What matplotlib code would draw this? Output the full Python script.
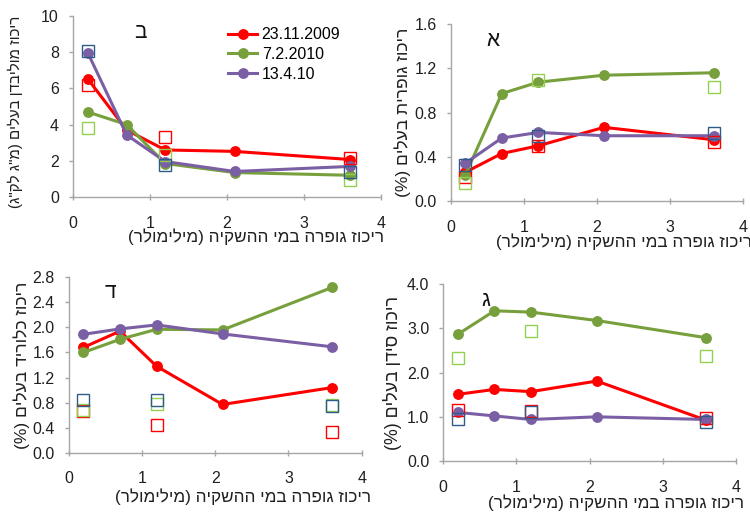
import matplotlib
matplotlib.use("Agg")
import matplotlib.pyplot as plt
import numpy as np

plt.rcParams['font.family'] = ['Liberation Sans', 'DejaVu Sans']

# ---------------- data ----------------
x = [0.2, 0.7, 1.2, 2.1, 3.6]
x_sq = [0.2, 1.2, 3.6]
series_names = ['23.11.2009', '7.2.2010', '13.4.10']

# ב  molybdenum (mg/kg)
mo_red = [6.5, 3.7, 2.6, 2.52, 2.07]
mo_green = [4.69, 4.0, 1.85, 1.35, 1.2]
mo_purple = [7.93, 3.43, 1.96, 1.41, 1.69]
mo_sq_red = [6.17, 3.33, 2.15]
mo_sq_green = [3.81, 2.33, 0.95]
mo_sq_blue = [8.06, 1.78, 1.37]

# א  sulfur (%)
s_red = [0.26, 0.43, 0.50, 0.667, 0.555]
s_green = [0.236, 0.973, 1.076, 1.139, 1.161]
s_purple = [0.342, 0.57, 0.621, 0.591, 0.591]
s_sq_red = [0.22, 0.494, 0.53]
s_sq_green = [0.167, 1.097, 1.036]
s_sq_blue = [0.324, 0.59, 0.618]

# ד  chloride (%)
cl_red = [1.68, 1.94, 1.38, 0.77, 1.04]
cl_green = [1.60, 1.81, 1.97, 1.96, 2.64]
cl_purple = [1.89, 1.976, 2.04, 1.896, 1.69]
cl_sq_red = [0.67, 0.44, 0.33]
cl_sq_green = [0.68, 0.78, 0.76]
cl_sq_blue = [0.84, 0.84, 0.75]

# ג  calcium (%)
ca_red = [1.51, 1.62, 1.57, 1.81, 0.92]
ca_green = [2.87, 3.40, 3.37, 3.18, 2.79]
ca_purple = [1.10, 1.02, 0.94, 1.00, 0.94]
ca_sq_red = [1.15, 1.13, 0.98]
ca_sq_green = [2.34, 2.95, 2.38]
ca_sq_blue = [0.96, 1.10, 0.88]

xlabel_text = 'ריכוז גופרה במי ההשקיה (מילימולר)'

# ---------------- styling ----------------
RED = '#FF0000'
GREEN = '#77A03C'
PURPLE = '#7B5FA5'
SQ_GREEN = '#92D050'
SQ_BLUE = '#2E5C8A'
AXC = '#A6A6A6'

W, H = 750, 513
fig = plt.figure(figsize=(W / 100, H / 100), dpi=100)


def heb(s):
    """Convert logical Hebrew string to visual order for LTR rendering."""
    r = s[::-1]
    return r.translate(str.maketrans('()', ')('))


def rect(l, r, t, b):
    return [l / W, 1 - b / H, (r - l) / W, (b - t) / H]


def make_panel(box, ymax, ystep, fmt, lines, squares, letter, letter_pos,
               ylabel, ylabel_pos, ylabel_size, xlabel_pos):
    ax = fig.add_axes(rect(*box))
    for vals, c in zip(lines, [RED, GREEN, PURPLE]):
        ax.plot(x, vals, '-o', color=c, lw=2.2, ms=6.8, zorder=3)
    for vals, c in zip(squares, [RED, SQ_GREEN, SQ_BLUE]):
        ax.plot(x_sq, vals, 's', ms=8, mfc='none', mec=c, mew=1.0, zorder=4)
    ax.set_xlim(0, 4)
    ax.set_ylim(0, ymax)
    ax.set_xticks(np.arange(0, 5, 1))
    yt = np.arange(0, ymax + ystep / 2, ystep)
    ax.set_yticks(yt)
    ax.set_yticklabels([fmt % v for v in yt])
    for sp in ['top', 'right']:
        ax.spines[sp].set_visible(False)
    for sp in ['left', 'bottom']:
        ax.spines[sp].set_color(AXC)
        ax.spines[sp].set_linewidth(1.0)
    ax.tick_params(axis='y', direction='out', length=3, width=1, color=AXC,
                   labelsize=11.5, pad=7, labelcolor='#202020')
    ax.tick_params(axis='x', direction='inout', length=5, width=1, color=AXC,
                   labelsize=11.5, pad=11, labelcolor='#202020')
    ax.patch.set_alpha(0)
    fig.text(letter_pos[0] / W, 1 - letter_pos[1] / H, letter, fontsize=15,
             ha='center', va='center', color='#111111')
    fig.text(ylabel_pos[0] / W, 1 - ylabel_pos[1] / H, heb(ylabel),
             rotation=90, fontsize=ylabel_size, ha='center', va='center',
             color='#202020')
    fig.text(xlabel_pos[0] / W, 1 - xlabel_pos[1] / H, heb(xlabel_text),
             fontsize=12.3, ha='center', va='center', color='#202020')
    return ax


ax_b = make_panel((72.7, 381, 16, 197), 10, 2, '%d',
                  [mo_red, mo_green, mo_purple],
                  [mo_sq_red, mo_sq_green, mo_sq_blue],
                  'ב', (140, 32),
                  'ריכוז מוליבדן בעלים (מ"ג לק"ג)', (15, 112), 10.8,
                  (255.5, 237))

ax_a = make_panel((450.7, 742.7, 24.3, 201), 1.6, 0.4, '%.1f',
                  [s_red, s_green, s_purple],
                  [s_sq_red, s_sq_green, s_sq_blue],
                  'א', (493, 40),
                  'ריכוז גופרית בעלים (%)', (403, 112), 12.5,
                  (624, 242))

ax_d = make_panel((68.7, 361.7, 277.3, 452.7), 2.8, 0.4, '%.1f',
                  [cl_red, cl_green, cl_purple],
                  [cl_sq_red, cl_sq_green, cl_sq_blue],
                  'ד', (110, 293),
                  'ריכוז כלוריד בעלים (%)', (22, 365), 12.5,
                  (243, 497))

ax_g = make_panel((443.3, 735.7, 284.3, 461), 4.0, 1.0, '%.1f',
                  [ca_red, ca_green, ca_purple],
                  [ca_sq_red, ca_sq_green, ca_sq_blue],
                  'ג', (486, 300),
                  'ריכוז סידן בעלים (%)', (393, 373), 12.8,
                  (616.5, 503))

# legend in panel ב
handles = ax_b.get_lines()[:3]
ax_b.legend(handles, series_names, loc='upper left',
            bbox_to_anchor=((217 - 72.7) / (381 - 72.7), 1.0),
            frameon=False, fontsize=11.5, handlelength=1.8, handletextpad=0.3,
            labelspacing=0.3, borderaxespad=0.3)

fig.savefig('out.png', dpi=100)
